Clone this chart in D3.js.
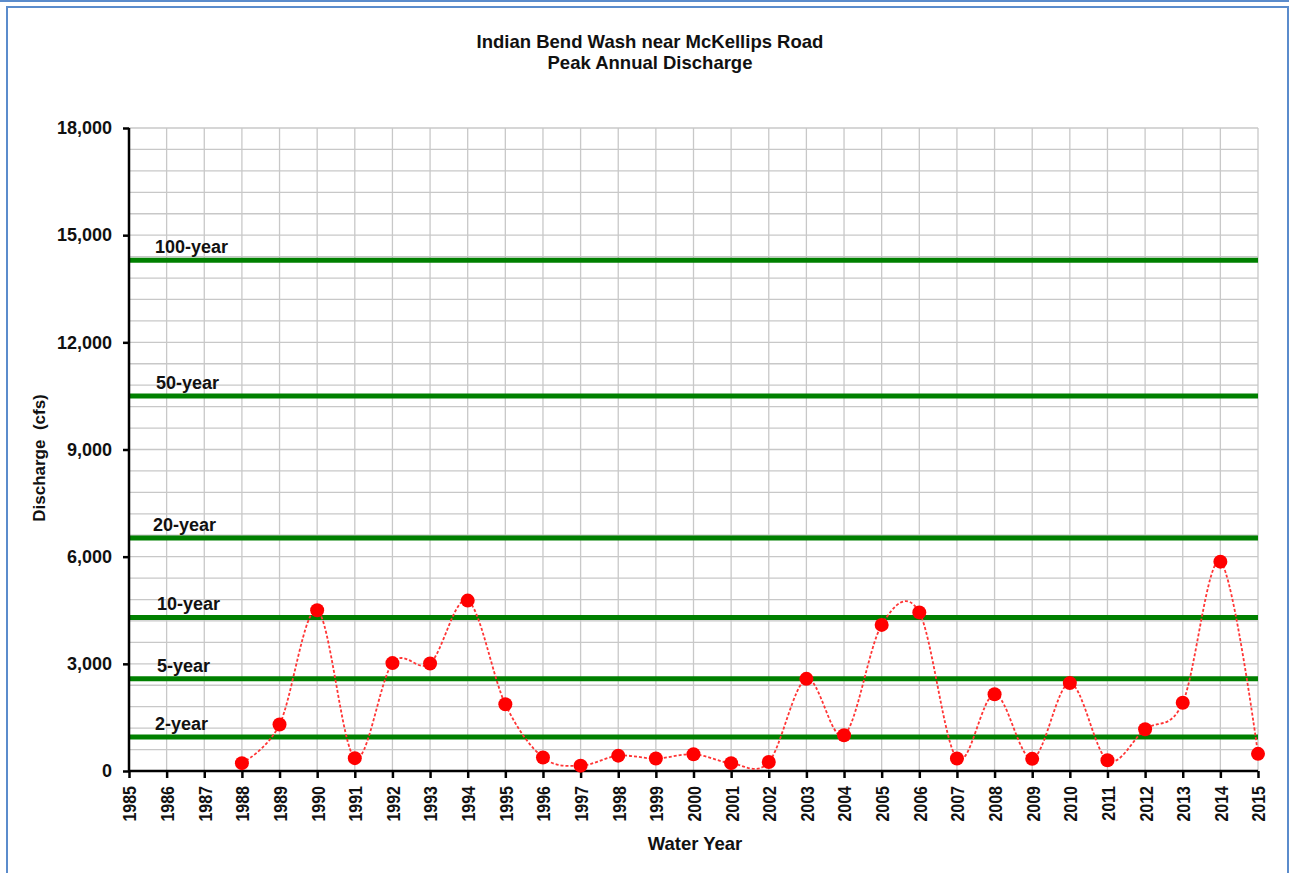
<!DOCTYPE html>
<html><head><meta charset="utf-8">
<script src="https://cdn.jsdelivr.net/npm/d3@7"></script>
<style>body{margin:0;background:#fff;} svg{display:block;font-family:"Liberation Sans",Arial,sans-serif;}</style>
</head><body>
<svg id="c" width="1289" height="873"></svg>
<script>
const years = [1988,1989,1990,1991,1992,1993,1994,1995,1996,1997,1998,1999,2000,2001,2002,2003,2004,2005,2006,2007,2008,2009,2010,2011,2012,2013,2014,2015];
const discharge = [220,1300,4500,360,3020,3010,4770,1870,380,150,430,350,470,220,250,2580,1000,4090,4440,350,2150,340,2460,300,1170,1910,5860,480];
const returnLabels = ["100-year","50-year","20-year","10-year","5-year","2-year"];
const returnValues = [14300,10500,6520,4300,2580,950];
const yTicks = [0,3000,6000,9000,12000,15000,18000];
const xTicks = d3.range(1985,2016);
const titleLines = ["Indian Bend Wash near McKellips Road","Peak Annual Discharge"];

const svg = d3.select("#c");
const L=129, R=1258, T=128, B=771;
const x = d3.scaleLinear().domain([1985,2015]).range([L,R]);
const y = d3.scaleLinear().domain([0,18000]).range([B,T]);

// frame
svg.append("line").attr("x1",0).attr("x2",1289).attr("y1",1).attr("y2",1).attr("stroke","#5b8ccc").attr("stroke-width",2);
svg.append("path").attr("d","M7,873V7H1288V873").attr("fill","none").attr("stroke","#5b8ccc").attr("stroke-width",2);

// grid
const g = svg.append("g");
g.selectAll(".hg").data(d3.range(600,18001,600)).enter().append("line")
 .attr("x1",L).attr("x2",R).attr("y1",d=>y(d)).attr("y2",d=>y(d)).attr("stroke","#c8c8c8").attr("stroke-width",1.3);
g.selectAll(".vg").data(xTicks.slice(1)).enter().append("line")
 .attr("x1",d=>x(d)).attr("x2",d=>x(d)).attr("y1",T).attr("y2",B).attr("stroke","#c8c8c8").attr("stroke-width",1.3);

// return period lines
svg.selectAll(".rl").data(returnValues).enter().append("line")
 .attr("x1",L).attr("x2",R).attr("y1",d=>y(d)).attr("y2",d=>y(d)).attr("stroke","#008000").attr("stroke-width",5);
const labX=[155,156,153,157,157,155];
svg.selectAll(".rt").data(returnLabels).enter().append("text")
 .attr("x",(d,i)=>labX[i]).attr("y",(d,i)=>y(returnValues[i])-7)
 .attr("font-size",18).attr("font-weight","bold").attr("fill","#111").text(d=>d);

// axes
const ya = svg.append("g").attr("transform",`translate(${L},0)`)
 .call(d3.axisLeft(y).tickValues(yTicks).tickSize(6).tickPadding(11).tickFormat(d3.format(",")));
ya.select(".domain").attr("stroke","#000").attr("stroke-width",2.5).attr("d",`M0,${T}V${B}`);
ya.selectAll(".tick line").attr("stroke","#000").attr("stroke-width",2.5);
ya.selectAll("text").attr("font-size",18).attr("font-weight","bold").attr("fill","#111").attr("font-family","Liberation Sans, Arial");

const xa = svg.append("g").attr("transform",`translate(0,${B})`)
 .call(d3.axisBottom(x).tickValues(xTicks).tickSize(7).tickFormat(d3.format("d")));
xa.select(".domain").attr("stroke","#000").attr("stroke-width",2.5).attr("d",`M${L},0H${R}`);
xa.selectAll(".tick line").attr("stroke","#000").attr("stroke-width",2.5);
xa.selectAll("text").attr("font-size",16).attr("font-weight","bold").attr("fill","#111")
 .attr("font-family","Liberation Sans, Arial")
 .attr("transform","rotate(-90) scale(1,1.2)").attr("text-anchor","end").attr("x",-15).attr("y",0).attr("dy","0.36em");

// data line
const line = d3.line().x((d,i)=>x(years[i])).y(d=>y(d)).curve(d3.curveCardinal.tension(0));
svg.append("path").datum(discharge).attr("d",line).attr("fill","none")
 .attr("stroke","#ff3535").attr("stroke-width",1.8).attr("stroke-dasharray","3,2");
svg.selectAll(".pt").data(discharge).enter().append("circle")
 .attr("cx",(d,i)=>x(years[i])).attr("cy",d=>y(d)).attr("r",7).attr("fill","#ff0000");

// titles
svg.selectAll(".tt").data(titleLines).enter().append("text")
 .attr("x",650).attr("y",(d,i)=>48+i*21).attr("text-anchor","middle")
 .attr("font-size",18.5).attr("font-weight","bold").attr("fill","#111").text(d=>d);
svg.append("text").attr("x",695).attr("y",850).attr("text-anchor","middle")
 .attr("font-size",18.5).attr("font-weight","bold").attr("fill","#111").text("Water Year");
svg.append("text").attr("transform","translate(45,458) rotate(-90)").attr("text-anchor","middle")
 .attr("font-size",17).attr("font-weight","bold").attr("fill","#111").attr("xml:space","preserve").text("Discharge  (cfs)");
</script>
</body></html>
